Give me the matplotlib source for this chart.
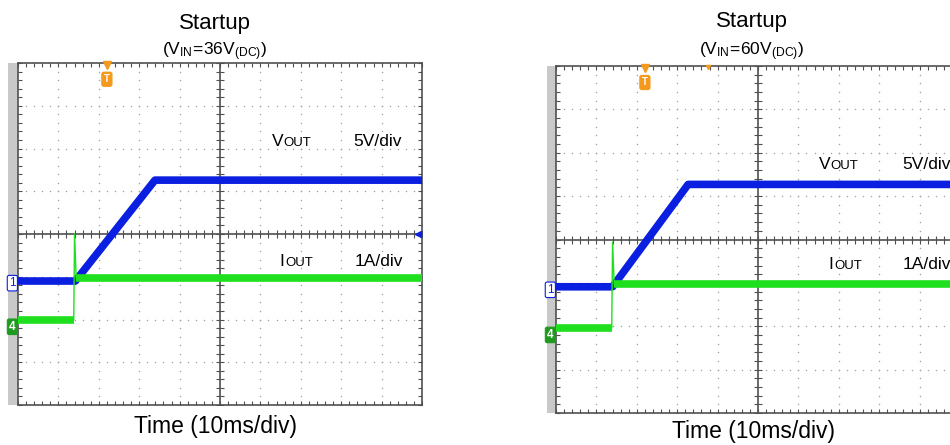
import numpy as np
import matplotlib
matplotlib.use("Agg")
import matplotlib.pyplot as plt
from matplotlib.patches import Rectangle

plt.rcParams['font.family'] = ['Liberation Sans', 'DejaVu Sans']
plt.rcParams['mathtext.fontset'] = 'custom'
plt.rcParams['mathtext.rm'] = 'Liberation Sans'
plt.rcParams['mathtext.it'] = 'Liberation Sans:italic'

# scope traces, in screen divisions (x: 0..10 div, y: -4..4 div)
vin_labels = ["36", "60"]
vout_t = [[0, 1.42, 3.39, 10], [0, 1.40, 3.27, 10]]
vout_v = [[-1.10, -1.10, 1.26, 1.26], [-1.09, -1.09, 1.27, 1.27]]
iout_t = [[0, 1.38, 1.40, 1.44, 10], [0, 1.38, 1.40, 1.44, 10]]
iout_v = [[-2.0, -2.0, 0.0, -1.02, -1.02], [-2.04, -2.04, -0.06, -1.02, -1.02]]
trig_pos = [2.2, 2.2]
ch1_ref = [-1.15, -1.16]
ch4_ref = [-2.17, -2.2]

W, H = 950, 445
BLUE = '#0a1fe0'
GREEN = '#1fe01f'
FRAME = '#505050'
ORANGE = '#f39a1e'


def px(x, y):
    return x / W, 1 - y / H


fig = plt.figure(figsize=(9.5, 4.45), dpi=100)

# axes boxes in pixels: left, top, right, bottom
boxes = [(18, 63, 422, 405), (556, 66, 960, 413)]
strips = [(8, 18), (547, 556)]

for i, (l, t, r, b) in enumerate(boxes):
    ax = fig.add_axes([l / W, 1 - b / H, (r - l) / W, (b - t) / H])
    ax.set_xlim(0, 10)
    ax.set_ylim(-4, 4)
    for s in ax.spines.values():
        s.set_color(FRAME)
        s.set_linewidth(1.2)
    ax.set_xticks(np.arange(0, 10.01, 0.2))
    ax.set_yticks(np.arange(-4, 4.01, 0.2))
    ax.tick_params(direction='in', length=3, width=0.8, color=FRAME,
                   top=True, right=True, labelbottom=False, labelleft=False)

    # dotted graticule
    fine_y = np.arange(-4, 4.01, 0.2)
    fine_x = np.arange(0, 10.01, 0.2)
    for gx in [1, 2, 3, 4, 6, 7, 8, 9]:
        ax.scatter(np.full_like(fine_y, gx), fine_y, s=1.2, color='#a5a5a5', lw=0, zorder=1)
    for gy in [-3, -2, -1, 1, 2, 3]:
        ax.scatter(fine_x, np.full_like(fine_x, gy), s=1.2, color='#a5a5a5', lw=0, zorder=1)

    # center axes with minor ticks
    ax.axhline(0, color=FRAME, lw=1.2, zorder=2)
    ax.axvline(5, color=FRAME, lw=1.2, zorder=2)
    ax.plot(fine_x, np.zeros_like(fine_x), ls='none', marker='|', ms=6, mew=0.8, color=FRAME, zorder=2)
    ax.plot(np.full_like(fine_y, 5), fine_y, ls='none', marker='_', ms=6, mew=0.8, color=FRAME, zorder=2)

    # traces
    ax.plot(vout_t[i], vout_v[i], color=BLUE, lw=5.5, solid_capstyle='butt', zorder=4)
    it, iv = iout_t[i], iout_v[i]
    ax.plot(it[:2], iv[:2], color=GREEN, lw=5.5, solid_capstyle='butt', zorder=5)
    ax.plot(it[1:4], iv[1:4], color=GREEN, lw=1.0, zorder=5)
    ax.plot(it[3:], iv[3:], color=GREEN, lw=5.5, solid_capstyle='butt', zorder=5)

    # trigger marker
    ax.plot([trig_pos[i]], [3.96], marker='v', ms=6, color=ORANGE, clip_on=False, zorder=6)
    ax.text(trig_pos[i], 3.62, 'T', color='white', fontsize=7, fontweight='bold',
            ha='center', va='center', zorder=7,
            bbox=dict(boxstyle='round,pad=0.2', fc=ORANGE, ec=ORANGE))
    if i == 1:
        ax.plot([3.76], [3.98], marker='v', ms=3, color=ORANGE, clip_on=False, zorder=6)

    # trigger level arrow on right edge
    ax.plot([9.9], [0], marker='<', ms=5, color=BLUE, zorder=6)

    # channel reference markers
    ax.text(-0.14, ch1_ref[i], '1', color=BLUE, fontsize=8.5, ha='center', va='center',
            clip_on=False, zorder=7,
            bbox=dict(boxstyle='round,pad=0.15', fc='white', ec=BLUE, lw=0.8))
    ax.text(-0.14, ch4_ref[i], '4', color='white', fontsize=8.5, fontweight='bold',
            ha='center', va='center', clip_on=False, zorder=7,
            bbox=dict(boxstyle='round,pad=0.15', fc='#1e9a1e', ec='#1e9a1e', lw=0.8))

# gray bezel strips left of each screen
for (sl, sr), (l, t, r, b) in zip(strips, boxes):
    fig.add_artist(Rectangle(px(sl, b), (sr - sl) / W, (b - t) / H,
                             transform=fig.transFigure, fc='#c9c9c9', ec='none', zorder=0))

# titles
titles = [(215, 29, 55), (752, 27, 55)]
for (cx, ty, sy), v in zip(titles, vin_labels):
    fig.text(*px(cx, ty), 'Startup', fontsize=16, ha='center', va='baseline')
    fig.text(*px(cx, sy), r'$\mathrm{(V_{IN}\!=\!' + v + r'V_{(DC)})}$',
             fontsize=12.5, ha='center', va='baseline')

# x axis captions
for cx, by in [(215, 433), (753, 438)]:
    fig.text(*px(cx, by), 'Time (10ms/div)', fontsize=16.5, ha='center', va='baseline')

# channel labels
labels = [
    (272, 283, 146, 'V', '5V/div', 353),
    (279, 285, 266, 'I', '1A/div', 355),
    (819, 830, 169, 'V', '5V/div', 902),
    (828, 834, 269, 'I', '1A/div', 903),
]
for x1, x2, y, big, scale, xs in labels:
    fig.text(*px(x1, y), big, fontsize=12.5, va='baseline')
    fig.text(*px(x2, y), 'OUT', fontsize=9.5, va='baseline')
    fig.text(*px(xs, y), scale, fontsize=12.5, va='baseline')

fig.savefig('out.png', dpi=100)
